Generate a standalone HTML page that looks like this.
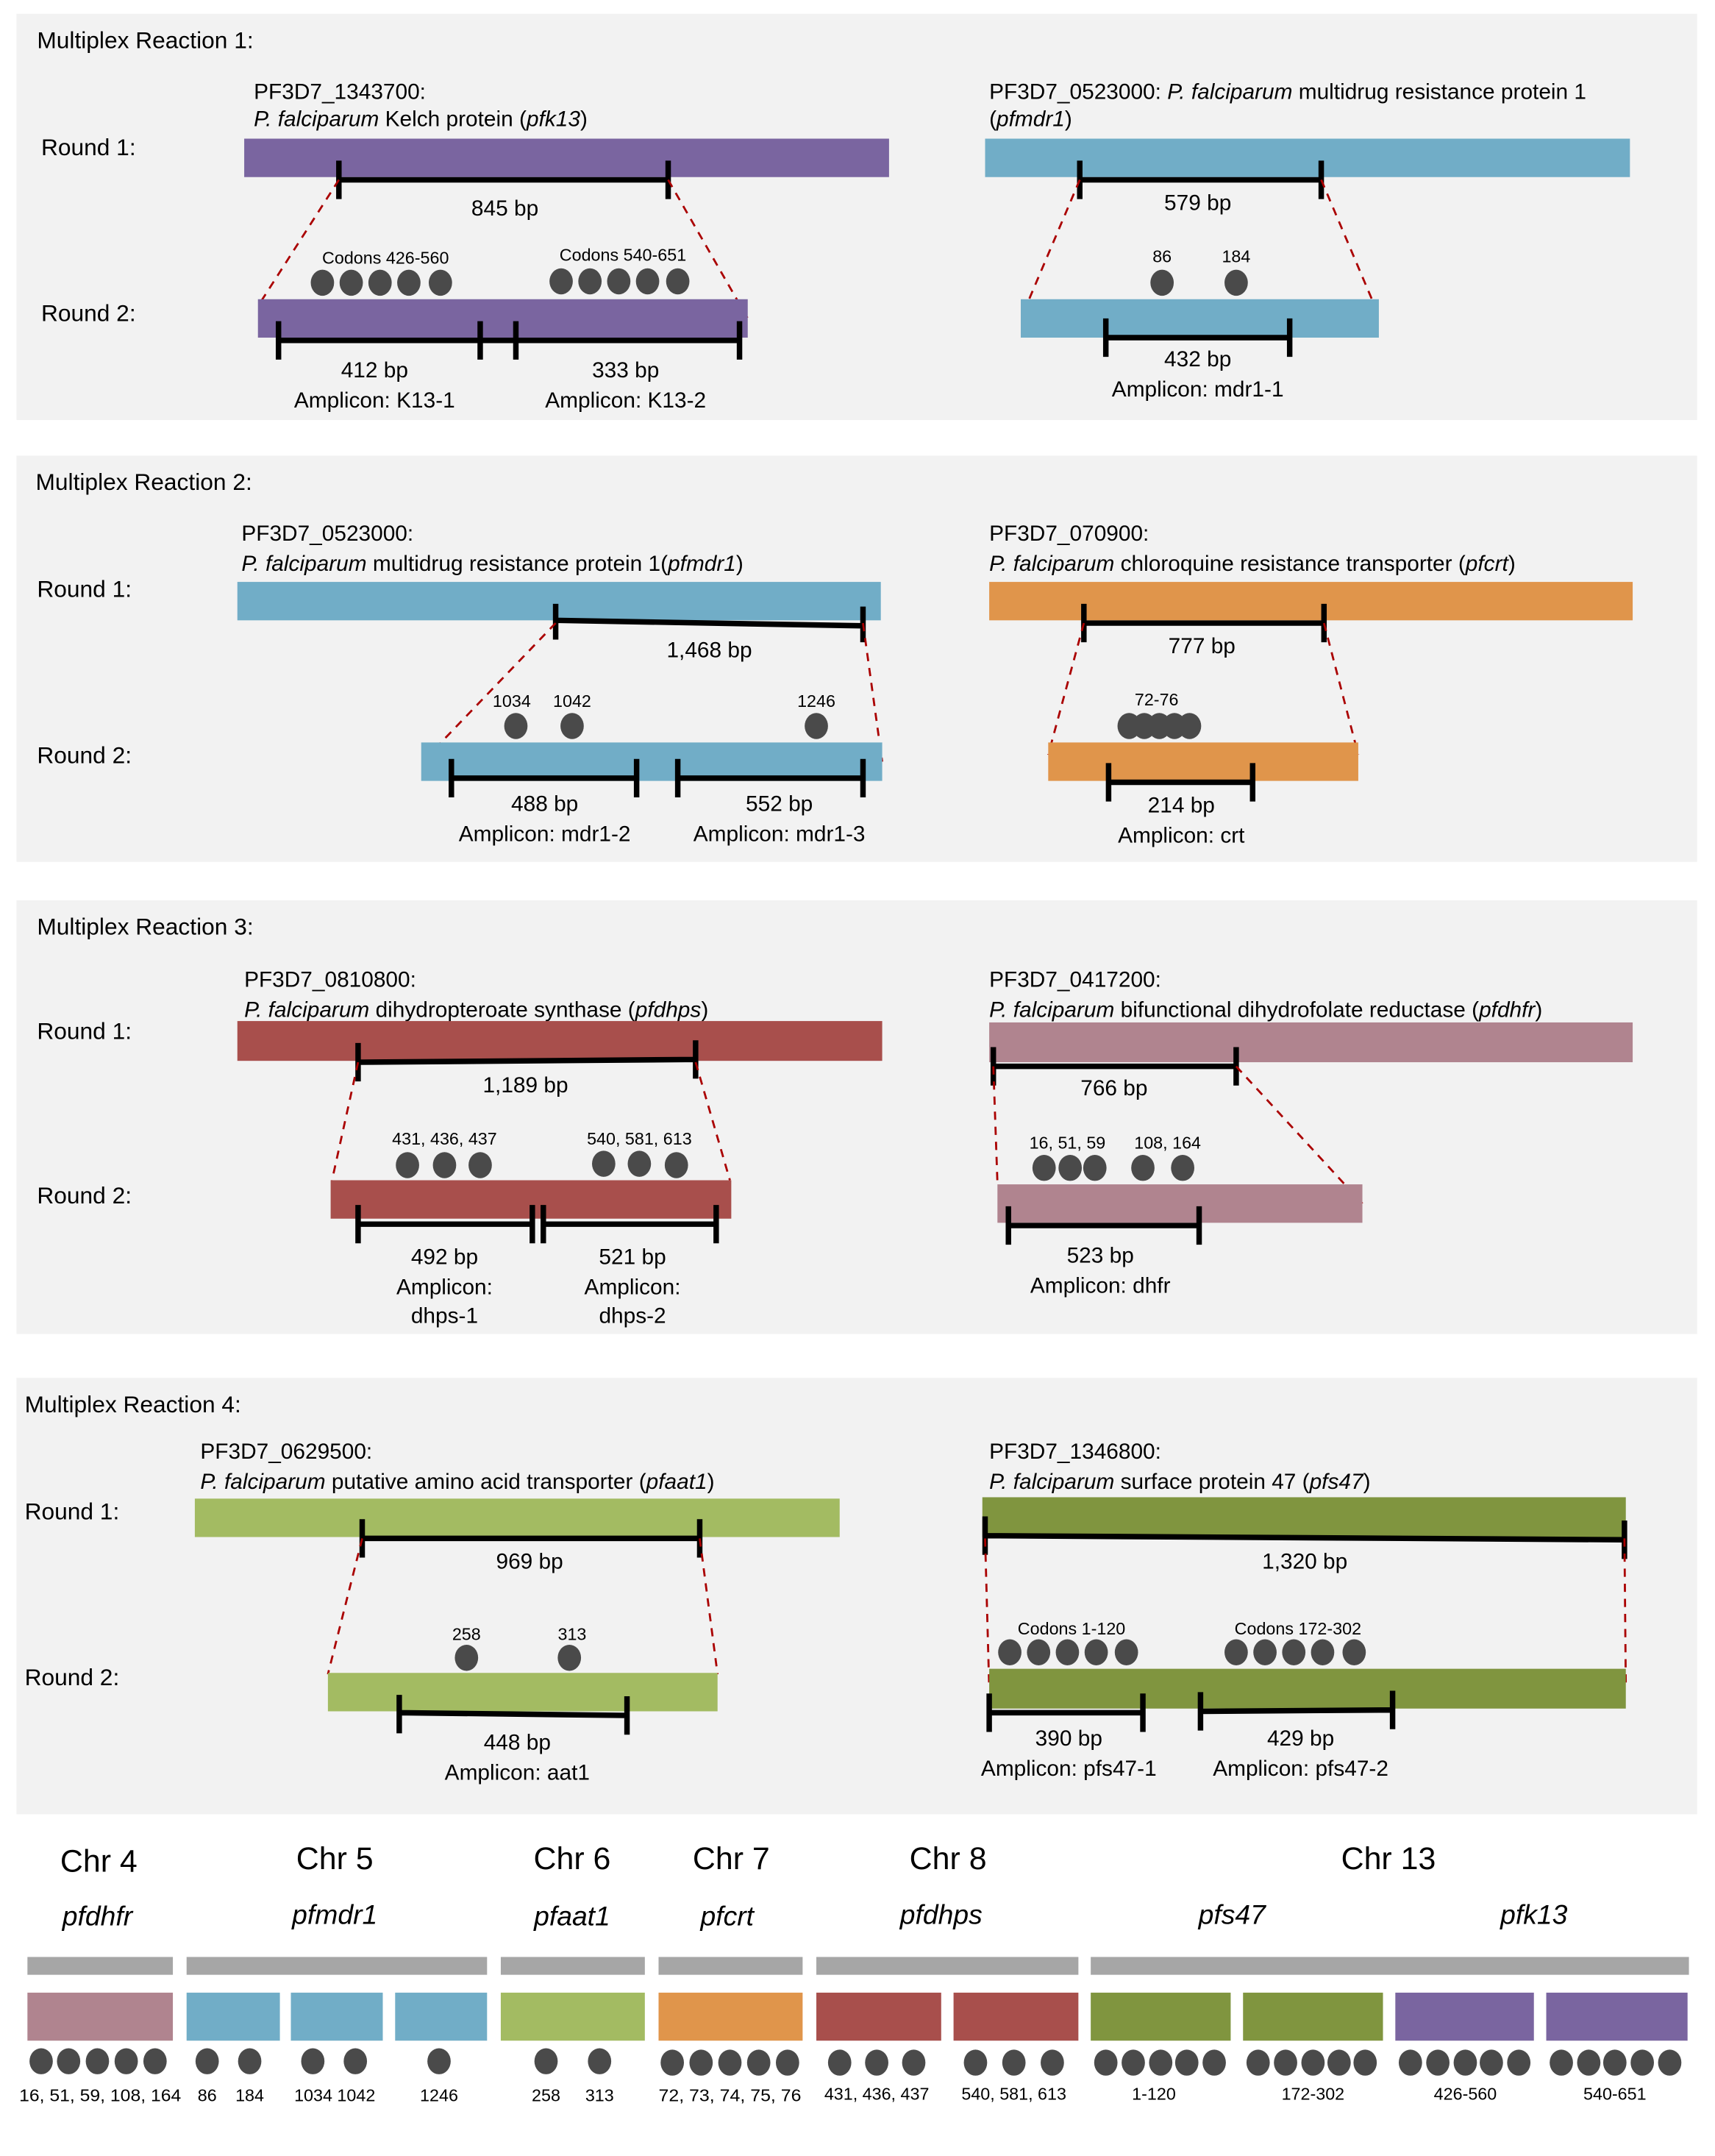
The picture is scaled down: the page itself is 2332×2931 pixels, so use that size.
<!DOCTYPE html>
<html><head><meta charset="utf-8"><style>
html,body{margin:0;padding:0;background:#fff;}
svg{display:block;}
text{font-family:"Liberation Sans",sans-serif;fill:#000;}
.t{font-size:16px;}
.s{font-size:12.5px;}
.h{font-size:17px;}
.c{text-anchor:middle;}
.br{stroke:#000;stroke-width:4;fill:none;}
.d{stroke:#a00;stroke-width:1.5;stroke-dasharray:6,5;fill:none;}
.p{fill:#f2f2f2;}
</style></head><body>
<svg width="2332" height="2931" viewBox="0 0 1250 1571" xmlns="http://www.w3.org/2000/svg">
<defs>
<g id="dot"><ellipse cx="0" cy="0" rx="8.5" ry="9.5" fill="#4a4a4a"/></g>
</defs>
<rect x="12" y="10" width="1225" height="296" class="p"/>
<rect x="12" y="332" width="1225" height="296" class="p"/>
<rect x="12" y="656" width="1225" height="316" class="p"/>
<rect x="12" y="1004" width="1225" height="318" class="p"/>

<!-- Panel 1 -->
<text x="27" y="35" class="h">Multiplex Reaction 1:</text>
<text x="185" y="72" class="t">PF3D7_1343700:</text>
<text x="185" y="92" class="t"><tspan font-style="italic">P. falciparum</tspan> Kelch protein (<tspan font-style="italic">pfk13</tspan>)</text>
<text x="30" y="113" class="h">Round 1:</text>
<text x="30" y="234" class="h">Round 2:</text>
<rect x="178" y="101" width="470" height="28" fill="#7a65a0"/>
<path class="br" d="M247 131H487M247 117V145M487 117V145"/>
<text x="368" y="157" class="t c">845 bp</text>
<path class="d" d="M247 131L190 220M487 131L545 232"/>
<text x="281" y="192" class="s c">Codons 426-560</text>
<text x="454" y="190" class="s c">Codons 540-651</text>
<use href="#dot" x="235" y="206"/><use href="#dot" x="256" y="206"/><use href="#dot" x="277" y="206"/><use href="#dot" x="298" y="206"/><use href="#dot" x="321" y="206"/>
<use href="#dot" x="409" y="205"/><use href="#dot" x="430" y="205"/><use href="#dot" x="451" y="205"/><use href="#dot" x="472" y="205"/><use href="#dot" x="494" y="205"/>
<rect x="188" y="218" width="357" height="28" fill="#7a65a0"/>
<path class="br" d="M203 248H539M203 234V262M350 234V262M376 234V262M539 234V262"/>
<text x="273" y="275" class="t c">412 bp</text>
<text x="273" y="297" class="t c">Amplicon: K13-1</text>
<text x="456" y="275" class="t c">333 bp</text>
<text x="456" y="297" class="t c">Amplicon: K13-2</text>

<text x="721" y="72" class="t">PF3D7_0523000: <tspan font-style="italic">P. falciparum</tspan> multidrug resistance protein 1</text>
<text x="721" y="92" class="t">(<tspan font-style="italic">pfmdr1</tspan>)</text>
<rect x="718" y="101" width="470" height="28" fill="#71adc7"/>
<path class="br" d="M787 131H963M787 117V145M963 117V145"/>
<text x="873" y="153" class="t c">579 bp</text>
<path class="d" d="M787 131L745 230M963 131L1005 230"/>
<text x="847" y="191" class="s c">86</text><text x="901" y="191" class="s c">184</text>
<use href="#dot" x="847" y="206"/><use href="#dot" x="901" y="206"/>
<rect x="744" y="218" width="261" height="28" fill="#71adc7"/>
<path class="br" d="M806 246H940M806 232V260M940 232V260"/>
<text x="873" y="267" class="t c">432 bp</text>
<text x="873" y="289" class="t c">Amplicon: mdr1-1</text>

<!-- Panel 2 -->
<text x="26" y="357" class="h">Multiplex Reaction 2:</text>
<text x="176" y="394" class="t">PF3D7_0523000:</text>
<text x="176" y="416" class="t"><tspan font-style="italic">P. falciparum</tspan> multidrug resistance protein 1(<tspan font-style="italic">pfmdr1</tspan>)</text>
<text x="27" y="435" class="h">Round 1:</text>
<text x="27" y="556" class="h">Round 2:</text>
<rect x="173" y="424" width="469" height="28" fill="#71adc7"/>
<path class="br" d="M405 452L629 456M405 440V466M629 442V468"/>
<text x="517" y="479" class="t c">1,468 bp</text>
<path class="d" d="M405 454L308 555M629 454L643 555"/>
<text x="373" y="515" class="s c">1034</text><text x="417" y="515" class="s c">1042</text><text x="595" y="515" class="s c">1246</text>
<use href="#dot" x="376" y="529"/><use href="#dot" x="417" y="529"/><use href="#dot" x="595" y="529"/>
<rect x="307" y="541" width="336" height="28" fill="#71adc7"/>
<path class="br" d="M329 567H464M329 553V581M464 553V581M494 567H629M494 553V581M629 553V581"/>
<text x="397" y="591" class="t c">488 bp</text>
<text x="397" y="613" class="t c">Amplicon: mdr1-2</text>
<text x="568" y="591" class="t c">552 bp</text>
<text x="568" y="613" class="t c">Amplicon: mdr1-3</text>

<text x="721" y="394" class="t">PF3D7_070900:</text>
<text x="721" y="416" class="t"><tspan font-style="italic">P. falciparum</tspan> chloroquine resistance transporter (<tspan font-style="italic">pfcrt</tspan>)</text>
<rect x="721" y="424" width="469" height="28" fill="#e0954b"/>
<path class="br" d="M790 454H965M790 440V468M965 440V468"/>
<text x="876" y="476" class="t c">777 bp</text>
<path class="d" d="M790 454L764 550M965 454L990 550"/>
<text x="843" y="514" class="s c">72-76</text>
<use href="#dot" x="823" y="529"/><use href="#dot" x="834" y="529"/><use href="#dot" x="845" y="529"/><use href="#dot" x="856" y="529"/><use href="#dot" x="867" y="529"/>
<rect x="764" y="541" width="226" height="28" fill="#e0954b"/>
<path class="br" d="M808 570H913M808 556V584M913 556V584"/>
<text x="861" y="592" class="t c">214 bp</text>
<text x="861" y="614" class="t c">Amplicon: crt</text>

<!-- Panel 3 -->
<text x="27" y="681" class="h">Multiplex Reaction 3:</text>
<text x="178" y="719" class="t">PF3D7_0810800:</text>
<text x="178" y="741" class="t"><tspan font-style="italic">P. falciparum</tspan> dihydropteroate synthase (<tspan font-style="italic">pfdhps</tspan>)</text>
<text x="27" y="757" class="h">Round 1:</text>
<text x="27" y="877" class="h">Round 2:</text>
<rect x="173" y="744" width="470" height="29" fill="#a84f4c"/>
<path class="br" d="M261 774L507 772M261 760V788M507 758V786"/>
<text x="383" y="796" class="t c">1,189 bp</text>
<path class="d" d="M261 774L242 860M507 774L532 860"/>
<text x="324" y="834" class="s c">431, 436, 437</text>
<text x="466" y="834" class="s c">540, 581, 613</text>
<use href="#dot" x="297" y="849"/><use href="#dot" x="324" y="849"/><use href="#dot" x="350" y="849"/>
<use href="#dot" x="440" y="848"/><use href="#dot" x="466" y="848"/><use href="#dot" x="493" y="849"/>
<rect x="241" y="860" width="292" height="28" fill="#a84f4c"/>
<path class="br" d="M261 892H388M261 878V906M388 878V906M396 892H522M396 878V906M522 878V906"/>
<text x="324" y="921" class="t c">492 bp</text>
<text x="324" y="943" class="t c">Amplicon:</text>
<text x="324" y="964" class="t c">dhps-1</text>
<text x="461" y="921" class="t c">521 bp</text>
<text x="461" y="943" class="t c">Amplicon:</text>
<text x="461" y="964" class="t c">dhps-2</text>

<text x="721" y="719" class="t">PF3D7_0417200:</text>
<text x="721" y="741" class="t"><tspan font-style="italic">P. falciparum</tspan> bifunctional dihydrofolate reductase (<tspan font-style="italic">pfdhfr</tspan>)</text>
<rect x="721" y="745" width="469" height="29" fill="#b0848f"/>
<path class="br" d="M724 777H901M724 763V791M901 763V791"/>
<text x="812" y="798" class="t c">766 bp</text>
<path class="d" d="M724 777L727 862M901 777L993 877"/>
<text x="778" y="837" class="s c">16, 51, 59</text>
<text x="851" y="837" class="s c">108, 164</text>
<use href="#dot" x="761" y="851"/><use href="#dot" x="780" y="851"/><use href="#dot" x="798" y="851"/><use href="#dot" x="833" y="851"/><use href="#dot" x="862" y="851"/>
<rect x="727" y="863" width="266" height="28" fill="#b0848f"/>
<path class="br" d="M735 893H874M735 879V907M874 879V907"/>
<text x="802" y="920" class="t c">523 bp</text>
<text x="802" y="942" class="t c">Amplicon: dhfr</text>

<!-- Panel 4 -->
<text x="18" y="1029" class="h">Multiplex Reaction 4:</text>
<text x="146" y="1063" class="t">PF3D7_0629500:</text>
<text x="146" y="1085" class="t"><tspan font-style="italic">P. falciparum</tspan> putative amino acid transporter (<tspan font-style="italic">pfaat1</tspan>)</text>
<text x="18" y="1107" class="h">Round 1:</text>
<text x="18" y="1228" class="h">Round 2:</text>
<rect x="142" y="1092" width="470" height="28" fill="#a3bb62"/>
<path class="br" d="M264 1121H510M264 1107V1135M510 1107V1135"/>
<text x="386" y="1143" class="t c">969 bp</text>
<path class="d" d="M264 1121L239 1220M510 1121L523 1220"/>
<text x="340" y="1195" class="s c">258</text><text x="417" y="1195" class="s c">313</text>
<use href="#dot" x="340" y="1208"/><use href="#dot" x="415" y="1208"/>
<rect x="239" y="1219" width="284" height="28" fill="#a3bb62"/>
<path class="br" d="M291 1248L457 1250M291 1235V1263M457 1236V1264"/>
<text x="377" y="1275" class="t c">448 bp</text>
<text x="377" y="1297" class="t c">Amplicon: aat1</text>

<text x="721" y="1063" class="t">PF3D7_1346800:</text>
<text x="721" y="1085" class="t"><tspan font-style="italic">P. falciparum</tspan> surface protein 47 (<tspan font-style="italic">pfs47</tspan>)</text>
<rect x="716" y="1091" width="469" height="29" fill="#80953f"/>
<path class="br" d="M718 1119L1184 1122M718 1105V1133M1184 1108V1136"/>
<text x="951" y="1143" class="t c">1,320 bp</text>
<path class="d" d="M718 1121L721 1230M1184 1121L1185 1230"/>
<text x="781" y="1191" class="s c">Codons 1-120</text>
<text x="946" y="1191" class="s c">Codons 172-302</text>
<use href="#dot" x="736" y="1204"/><use href="#dot" x="757" y="1204"/><use href="#dot" x="778" y="1204"/><use href="#dot" x="799" y="1204"/><use href="#dot" x="821" y="1204"/>
<use href="#dot" x="901" y="1204"/><use href="#dot" x="922" y="1204"/><use href="#dot" x="943" y="1204"/><use href="#dot" x="964" y="1204"/><use href="#dot" x="987" y="1204"/>
<rect x="721" y="1216" width="464" height="29" fill="#80953f"/>
<path class="br" d="M721 1248H833M721 1234V1262M833 1234V1262M875 1247L1015 1246M875 1233V1261M1015 1232V1260"/>
<text x="779" y="1272" class="t c">390 bp</text>
<text x="779" y="1294" class="t c">Amplicon: pfs47-1</text>
<text x="948" y="1272" class="t c">429 bp</text>
<text x="948" y="1294" class="t c">Amplicon: pfs47-2</text>

<!-- Bottom -->
<g font-size="23">
<text x="72" y="1364" class="c">Chr 4</text>
<text x="244" y="1362" class="c">Chr 5</text>
<text x="417" y="1362" class="c">Chr 6</text>
<text x="533" y="1362" class="c">Chr 7</text>
<text x="691" y="1362" class="c">Chr 8</text>
<text x="1012" y="1362" class="c">Chr 13</text>
</g>
<g font-size="20" font-style="italic">
<text x="71" y="1403" class="c">pfdhfr</text>
<text x="244" y="1402" class="c">pfmdr1</text>
<text x="417" y="1403" class="c">pfaat1</text>
<text x="530" y="1403" class="c">pfcrt</text>
<text x="686" y="1402" class="c">pfdhps</text>
<text x="898" y="1402" class="c">pfs47</text>
<text x="1118" y="1402" class="c">pfk13</text>
</g>
<g fill="#a6a6a6">
<rect x="20" y="1426" width="106" height="13"/>
<rect x="136" y="1426" width="219" height="13"/>
<rect x="365" y="1426" width="105" height="13"/>
<rect x="480" y="1426" width="105" height="13"/>
<rect x="595" y="1426" width="191" height="13"/>
<rect x="795" y="1426" width="436" height="13"/>
</g>
<rect x="20" y="1452" width="106" height="35" fill="#b0848f"/>
<rect x="136" y="1452" width="68" height="35" fill="#71adc7"/>
<rect x="212" y="1452" width="67" height="35" fill="#71adc7"/>
<rect x="288" y="1452" width="67" height="35" fill="#71adc7"/>
<rect x="365" y="1452" width="105" height="35" fill="#a3bb62"/>
<rect x="480" y="1452" width="105" height="35" fill="#e0954b"/>
<rect x="595" y="1452" width="91" height="35" fill="#a84f4c"/>
<rect x="695" y="1452" width="91" height="35" fill="#a84f4c"/>
<rect x="795" y="1452" width="102" height="35" fill="#80953f"/>
<rect x="906" y="1452" width="102" height="35" fill="#80953f"/>
<rect x="1017" y="1452" width="101" height="35" fill="#7a65a0"/>
<rect x="1127" y="1452" width="103" height="35" fill="#7a65a0"/>
<g>
<use href="#dot" x="30" y="1502"/><use href="#dot" x="50" y="1502"/><use href="#dot" x="71" y="1502"/><use href="#dot" x="92" y="1502"/><use href="#dot" x="113" y="1502"/>
<use href="#dot" x="151" y="1502"/><use href="#dot" x="182" y="1502"/><use href="#dot" x="228" y="1502"/><use href="#dot" x="259" y="1502"/><use href="#dot" x="320" y="1502"/>
<use href="#dot" x="398" y="1502"/><use href="#dot" x="437" y="1502"/>
<use href="#dot" x="490" y="1503"/><use href="#dot" x="511" y="1503"/><use href="#dot" x="532" y="1503"/><use href="#dot" x="553" y="1503"/><use href="#dot" x="574" y="1503"/>
<use href="#dot" x="612" y="1503"/><use href="#dot" x="639" y="1503"/><use href="#dot" x="666" y="1503"/>
<use href="#dot" x="711" y="1503"/><use href="#dot" x="739" y="1503"/><use href="#dot" x="767" y="1503"/>
<use href="#dot" x="806" y="1503"/><use href="#dot" x="826" y="1503"/><use href="#dot" x="846" y="1503"/><use href="#dot" x="865" y="1503"/><use href="#dot" x="885" y="1503"/>
<use href="#dot" x="917" y="1503"/><use href="#dot" x="937" y="1503"/><use href="#dot" x="957" y="1503"/><use href="#dot" x="976" y="1503"/><use href="#dot" x="995" y="1503"/>
<use href="#dot" x="1028" y="1503"/><use href="#dot" x="1048" y="1503"/><use href="#dot" x="1068" y="1503"/><use href="#dot" x="1087" y="1503"/><use href="#dot" x="1107" y="1503"/>
<use href="#dot" x="1138" y="1503"/><use href="#dot" x="1158" y="1503"/><use href="#dot" x="1177" y="1503"/><use href="#dot" x="1197" y="1503"/><use href="#dot" x="1217" y="1503"/>
</g>
<g font-size="12.5">
<text x="73" y="1531" class="c" textLength="118" lengthAdjust="spacingAndGlyphs">16, 51, 59, 108, 164</text>
<text x="151" y="1531" class="c">86</text>
<text x="182" y="1531" class="c">184</text>
<text x="244" y="1531" class="c">1034 1042</text>
<text x="320" y="1531" class="c">1246</text>
<text x="398" y="1531" class="c">258</text>
<text x="437" y="1531" class="c">313</text>
<text x="532" y="1531" class="c" textLength="104" lengthAdjust="spacingAndGlyphs">72, 73, 74, 75, 76</text>
<text x="639" y="1530" class="c">431, 436, 437</text>
<text x="739" y="1530" class="c">540, 581, 613</text>
<text x="841" y="1530" class="c">1-120</text>
<text x="957" y="1530" class="c">172-302</text>
<text x="1068" y="1530" class="c">426-560</text>
<text x="1177" y="1530" class="c">540-651</text>
</g>
</svg>
</body></html>
